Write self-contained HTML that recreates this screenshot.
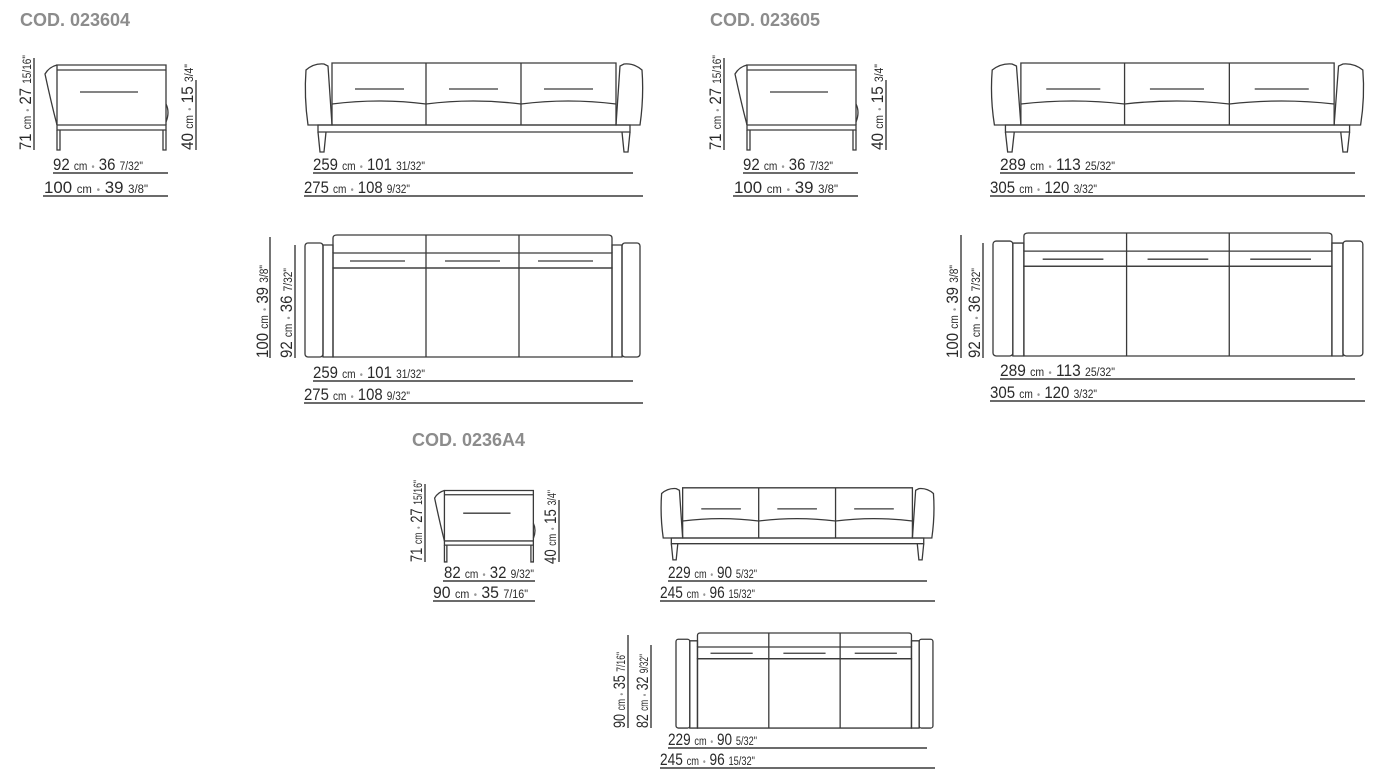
<!DOCTYPE html>
<html><head><meta charset="utf-8"><style>
html,body{margin:0;padding:0;background:#fff;width:1380px;height:784px;overflow:hidden}
svg{display:block}
.s{fill:none;stroke:#3a3a3a;stroke-width:1.3;vector-effect:non-scaling-stroke}
.s *{vector-effect:non-scaling-stroke}
.d{stroke:#3a3a3a;stroke-width:1.4}
.t{font-family:"Liberation Sans Narrow","Liberation Sans",sans-serif;fill:#2a2a2a;font-size:17px}
.t tspan.m{font-size:11.5px}
.t tspan.b{font-size:10px;fill:#999}
.c{font-family:"Liberation Sans",sans-serif;font-weight:bold;fill:#8c8c8c;font-size:18px}
</style></head><body>
<svg width="1380" height="784" viewBox="0 0 1380 784" xmlns="http://www.w3.org/2000/svg">
<defs>
<g id="front" class="s">
<path d="M2,8 Q10,1 20,2 L24,4 L28,63 L4,63 Q0,35 2,8 Z"/>
<path d="M338,8 Q330,1 320,2 L316,4 L312,63 L336,63 Q340,35 338,8 Z"/>
<path d="M28,63 L28,1 L312,1 L312,63 Z"/>
<path d="M28,42 Q75,36 122,42 Q169,36 217,42 Q264,36 312,42"/>
<path d="M122,1 L122,63 M217,1 L217,63"/>
<path d="M14,63 L326,63 L326,70 L14,70 Z"/>
<path d="M14,70 L16,90 L20,90 L22,70 M326,70 L324,90 L320,90 L318,70"/>
<path d="M51,27 L100,27 M145,27 L194,27 M240,27 L289,27"/>
</g>
<g id="plan" class="s">
<rect x="0" y="8" width="18" height="114" rx="3"/>
<rect x="18" y="10" width="10" height="112"/>
<rect x="317" y="8" width="18" height="114" rx="3"/>
<rect x="307" y="10" width="10" height="112"/>
<path d="M28,18 L28,3 Q28,0 32,0 L303,0 Q307,0 307,3 L307,18"/>
<rect x="28" y="18" width="279" height="15"/>
<rect x="28" y="33" width="279" height="89"/>
<path d="M121,0 L121,122 M214,0 L214,122"/>
<path d="M45,26 L100,26 M140,26 L195,26 M233,26 L288,26"/>
</g>
<g id="chair" class="s">
<path d="M14,63 L14,3 L123,3 L123,63"/>
<path d="M14,8 L123,8"/>
<path d="M14,63 Q8,40 2,12 Q6,5 14,3"/>
<path d="M123,42 Q127,50 123,60"/>
<path d="M14,63 L123,63 L123,68 L14,68 Z"/>
<path d="M14,68 L14,88 L17,88 L17,68 M120,68 L120,88 L123,88 L123,68"/>
<path d="M37,30 L95,30"/>
</g>
</defs>

<text class="c" x="20" y="26">COD. 023604</text>
<text class="c" x="710" y="26">COD. 023605</text>
<text class="c" x="412" y="446">COD. 0236A4</text>

<!-- Chair 1 -->
<use href="#chair" transform="translate(43,62)"/>
<line class="d" x1="34" y1="58" x2="34" y2="150"/>
<text class="t" transform="translate(31,150) rotate(-90)" textLength="95" lengthAdjust="spacingAndGlyphs">71 <tspan class="m">cm</tspan> <tspan class="b">•</tspan> 27 <tspan class="m">15/16"</tspan></text>
<line class="d" x1="196" y1="80" x2="196" y2="150"/>
<text class="t" transform="translate(193,150) rotate(-90)" textLength="86" lengthAdjust="spacingAndGlyphs">40 <tspan class="m">cm</tspan> <tspan class="b">•</tspan> 15 <tspan class="m">3/4"</tspan></text>
<text class="t" x="53" y="170" textLength="90" lengthAdjust="spacingAndGlyphs">92 <tspan class="m">cm</tspan> <tspan class="b">•</tspan> 36 <tspan class="m">7/32"</tspan></text>
<line class="d" x1="53" y1="173" x2="168" y2="173"/>
<text class="t" x="44" y="193" textLength="104" lengthAdjust="spacingAndGlyphs">100 <tspan class="m">cm</tspan> <tspan class="b">•</tspan> 39 <tspan class="m">3/8"</tspan></text>
<line class="d" x1="43" y1="196" x2="168" y2="196"/>

<!-- Sofa 1 front -->
<use href="#front" transform="translate(304,62)"/>
<text class="t" x="313" y="170" textLength="112" lengthAdjust="spacingAndGlyphs">259 <tspan class="m">cm</tspan> <tspan class="b">•</tspan> 101 <tspan class="m">31/32"</tspan></text>
<line class="d" x1="313" y1="173" x2="633" y2="173"/>
<text class="t" x="304" y="193" textLength="106" lengthAdjust="spacingAndGlyphs">275 <tspan class="m">cm</tspan> <tspan class="b">•</tspan> 108 <tspan class="m">9/32"</tspan></text>
<line class="d" x1="304" y1="196" x2="643" y2="196"/>

<!-- Sofa 1 plan -->
<use href="#plan" transform="translate(305,235)"/>
<line class="d" x1="270" y1="237" x2="270" y2="358"/>
<text class="t" transform="translate(268,358) rotate(-90)" textLength="93" lengthAdjust="spacingAndGlyphs">100 <tspan class="m">cm</tspan> <tspan class="b">•</tspan> 39 <tspan class="m">3/8"</tspan></text>
<line class="d" x1="295" y1="245" x2="295" y2="358"/>
<text class="t" transform="translate(292,358) rotate(-90)" textLength="90" lengthAdjust="spacingAndGlyphs">92 <tspan class="m">cm</tspan> <tspan class="b">•</tspan> 36 <tspan class="m">7/32"</tspan></text>
<text class="t" x="313" y="378" textLength="112" lengthAdjust="spacingAndGlyphs">259 <tspan class="m">cm</tspan> <tspan class="b">•</tspan> 101 <tspan class="m">31/32"</tspan></text>
<line class="d" x1="313" y1="381" x2="633" y2="381"/>
<text class="t" x="304" y="400" textLength="106" lengthAdjust="spacingAndGlyphs">275 <tspan class="m">cm</tspan> <tspan class="b">•</tspan> 108 <tspan class="m">9/32"</tspan></text>
<line class="d" x1="304" y1="403" x2="643" y2="403"/>

<!-- Chair 2 -->
<use href="#chair" transform="translate(733,62)"/>
<line class="d" x1="724" y1="58" x2="724" y2="150"/>
<text class="t" transform="translate(721,150) rotate(-90)" textLength="95" lengthAdjust="spacingAndGlyphs">71 <tspan class="m">cm</tspan> <tspan class="b">•</tspan> 27 <tspan class="m">15/16"</tspan></text>
<line class="d" x1="886" y1="80" x2="886" y2="150"/>
<text class="t" transform="translate(883,150) rotate(-90)" textLength="86" lengthAdjust="spacingAndGlyphs">40 <tspan class="m">cm</tspan> <tspan class="b">•</tspan> 15 <tspan class="m">3/4"</tspan></text>
<text class="t" x="743" y="170" textLength="90" lengthAdjust="spacingAndGlyphs">92 <tspan class="m">cm</tspan> <tspan class="b">•</tspan> 36 <tspan class="m">7/32"</tspan></text>
<line class="d" x1="743" y1="173" x2="858" y2="173"/>
<text class="t" x="734" y="193" textLength="104" lengthAdjust="spacingAndGlyphs">100 <tspan class="m">cm</tspan> <tspan class="b">•</tspan> 39 <tspan class="m">3/8"</tspan></text>
<line class="d" x1="733" y1="196" x2="858" y2="196"/>

<!-- Sofa 2 front -->
<use href="#front" transform="translate(990,62) scale(1.103,1)"/>
<text class="t" x="1000" y="170" textLength="115" lengthAdjust="spacingAndGlyphs">289 <tspan class="m">cm</tspan> <tspan class="b">•</tspan> 113 <tspan class="m">25/32"</tspan></text>
<line class="d" x1="1000" y1="173" x2="1355" y2="173"/>
<text class="t" x="990" y="193" textLength="107" lengthAdjust="spacingAndGlyphs">305 <tspan class="m">cm</tspan> <tspan class="b">•</tspan> 120 <tspan class="m">3/32"</tspan></text>
<line class="d" x1="990" y1="196" x2="1365" y2="196"/>

<!-- Sofa 2 plan -->
<use href="#plan" transform="translate(993,233) scale(1.104,1.008)"/>
<line class="d" x1="961" y1="235" x2="961" y2="358"/>
<text class="t" transform="translate(958,358) rotate(-90)" textLength="93" lengthAdjust="spacingAndGlyphs">100 <tspan class="m">cm</tspan> <tspan class="b">•</tspan> 39 <tspan class="m">3/8"</tspan></text>
<line class="d" x1="983" y1="243" x2="983" y2="358"/>
<text class="t" transform="translate(980,358) rotate(-90)" textLength="90" lengthAdjust="spacingAndGlyphs">92 <tspan class="m">cm</tspan> <tspan class="b">•</tspan> 36 <tspan class="m">7/32"</tspan></text>
<text class="t" x="1000" y="376" textLength="115" lengthAdjust="spacingAndGlyphs">289 <tspan class="m">cm</tspan> <tspan class="b">•</tspan> 113 <tspan class="m">25/32"</tspan></text>
<line class="d" x1="1000" y1="379" x2="1355" y2="379"/>
<text class="t" x="990" y="398" textLength="107" lengthAdjust="spacingAndGlyphs">305 <tspan class="m">cm</tspan> <tspan class="b">•</tspan> 120 <tspan class="m">3/32"</tspan></text>
<line class="d" x1="990" y1="401" x2="1365" y2="401"/>

<!-- Chair 3 -->
<use href="#chair" transform="translate(433,488) scale(0.816,0.84)"/>
<line class="d" x1="425" y1="484" x2="425" y2="562"/>
<text class="t" transform="translate(422,562) rotate(-90)" textLength="82" lengthAdjust="spacingAndGlyphs">71 <tspan class="m">cm</tspan> <tspan class="b">•</tspan> 27 <tspan class="m">15/16"</tspan></text>
<line class="d" x1="559" y1="500" x2="559" y2="562"/>
<text class="t" transform="translate(556,564) rotate(-90)" textLength="74" lengthAdjust="spacingAndGlyphs">40 <tspan class="m">cm</tspan> <tspan class="b">•</tspan> 15 <tspan class="m">3/4"</tspan></text>
<text class="t" x="444" y="578" textLength="90" lengthAdjust="spacingAndGlyphs">82 <tspan class="m">cm</tspan> <tspan class="b">•</tspan> 32 <tspan class="m">9/32"</tspan></text>
<line class="d" x1="443" y1="581" x2="535" y2="581"/>
<text class="t" x="433" y="598" textLength="95" lengthAdjust="spacingAndGlyphs">90 <tspan class="m">cm</tspan> <tspan class="b">•</tspan> 35 <tspan class="m">7/16"</tspan></text>
<line class="d" x1="433" y1="601" x2="535" y2="601"/>

<!-- Sofa 3 front -->
<use href="#front" transform="translate(660,487) scale(0.809,0.81)"/>
<text class="t" x="668" y="578" textLength="89" lengthAdjust="spacingAndGlyphs">229 <tspan class="m">cm</tspan> <tspan class="b">•</tspan> 90 <tspan class="m">5/32"</tspan></text>
<line class="d" x1="668" y1="581" x2="927" y2="581"/>
<text class="t" x="660" y="598" textLength="95" lengthAdjust="spacingAndGlyphs">245 <tspan class="m">cm</tspan> <tspan class="b">•</tspan> 96 <tspan class="m">15/32"</tspan></text>
<line class="d" x1="660" y1="601" x2="935" y2="601"/>

<!-- Sofa 3 plan -->
<use href="#plan" transform="translate(676,633) scale(0.767,0.779)"/>
<line class="d" x1="628" y1="635" x2="628" y2="728"/>
<text class="t" transform="translate(625,728) rotate(-90)" textLength="76" lengthAdjust="spacingAndGlyphs">90 <tspan class="m">cm</tspan> <tspan class="b">•</tspan> 35 <tspan class="m">7/16"</tspan></text>
<line class="d" x1="651" y1="645" x2="651" y2="728"/>
<text class="t" transform="translate(648,728) rotate(-90)" textLength="74" lengthAdjust="spacingAndGlyphs">82 <tspan class="m">cm</tspan> <tspan class="b">•</tspan> 32 <tspan class="m">9/32"</tspan></text>
<text class="t" x="668" y="745" textLength="89" lengthAdjust="spacingAndGlyphs">229 <tspan class="m">cm</tspan> <tspan class="b">•</tspan> 90 <tspan class="m">5/32"</tspan></text>
<line class="d" x1="668" y1="748" x2="927" y2="748"/>
<text class="t" x="660" y="765" textLength="95" lengthAdjust="spacingAndGlyphs">245 <tspan class="m">cm</tspan> <tspan class="b">•</tspan> 96 <tspan class="m">15/32"</tspan></text>
<line class="d" x1="660" y1="768" x2="935" y2="768"/>
</svg>
</body></html>
